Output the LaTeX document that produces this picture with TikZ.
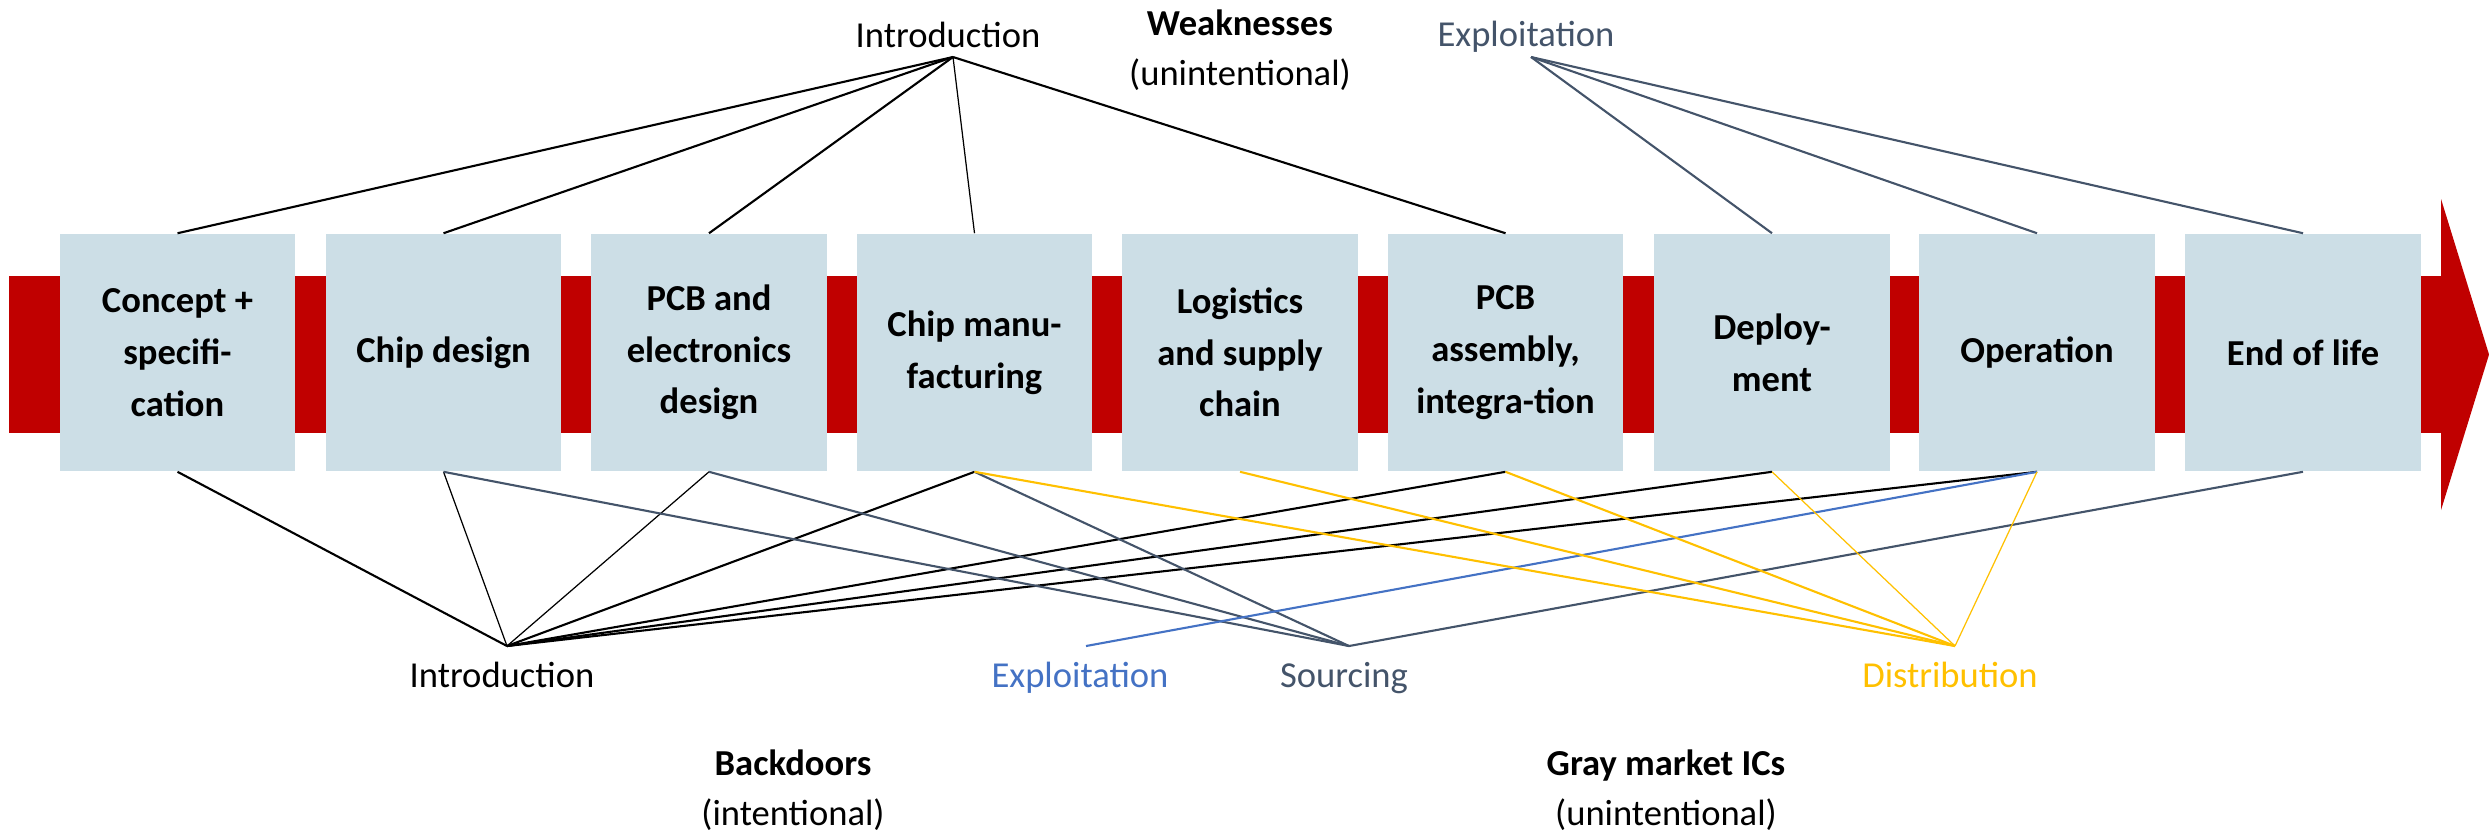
\documentclass[tikz,border=0pt]{standalone}
\usepackage{fontspec}
\setmainfont{Carlito}
\definecolor{lifered}{HTML}{C00000}
\definecolor{stagefill}{HTML}{CCDEE6}
\definecolor{slate}{HTML}{44546A}
\definecolor{exblue}{HTML}{4472C4}
\definecolor{gold}{HTML}{FFC000}
\tikzset{
  stage/.style={fill=stagefill, minimum width=2.35cm, minimum height=2.37cm,
    inner sep=0pt, align=center, font=\fontsize{10.4}{14.7}\selectfont\bfseries},
  lbl/.style={anchor=base, inner sep=0pt, align=center,
    font=\fontsize{10.4}{14.2}\selectfont},
  link/.style={line width=0.6pt},
  thinlink/.style={line width=0.35pt},
}
\begin{document}
\begin{tikzpicture}[x=0.01cm, y=-0.01cm]
  \useasboundingbox (0,0) rectangle (2489,835);
  % life cycle arrow
  \fill[lifered] (9,276) rectangle (2441,433);
  \fill[lifered] (2441,199) -- (2489,354.5) -- (2441,510) -- cycle;

  % stages
  \node[stage] (concept) at (177.5,352.5) {Concept +\\specifi-\\cation};
  \node[stage] (chipdes) at (443.5,352.5) {Chip design};
  \node[stage] (pcbdes) at (709,352.5) {PCB and\\electronics\\design};
  \node[stage] (chipman) at (974.5,352.5) {Chip manu-\\facturing};
  \node[stage] (logist) at (1240,352.5) {Logistics\\and supply\\chain};
  \node[stage] (pcbasm) at (1505.5,352.5) {PCB\\assembly,\\integra-tion};
  \node[stage] (deploy) at (1772,352.5) {Deploy-\\ment};
  \node[stage] (oper) at (2037,352.5) {Operation};
  \node[stage] (eol) at (2303,352.5) {End of life};

  % weaknesses (top)
  \node[lbl] (introT) at (948,47) {Introduction};
  \node[lbl] (weak) at (1240,85) {\textbf{Weaknesses}\\(unintentional)};
  \node[lbl, text=slate] (exploitT) at (1526,46) {Exploitation};
  \coordinate (introTp) at (953,57);
  \coordinate (exploitTp) at (1531,57);

  \draw[link] (introTp) -- (concept.north);
  \draw[link] (introTp) -- (chipdes.north);
  \draw[link] (introTp) -- (pcbdes.north);
  \draw[thinlink] (introTp) -- (chipman.north);
  \draw[link] (introTp) -- (pcbasm.north);
  \draw[link, slate] (exploitTp) -- (deploy.north);
  \draw[link, slate] (exploitTp) -- (oper.north);
  \draw[link, slate] (exploitTp) -- (eol.north);

  % backdoors and gray market (bottom)
  \node[lbl] (introB) at (502,687) {Introduction};
  \node[lbl, text=exblue] (exploitB) at (1080,687) {Exploitation};
  \node[lbl, text=slate] (sourcing) at (1344,687) {Sourcing};
  \node[lbl, text=gold] (distrib) at (1950,687) {Distribution};
  \node[lbl] (backdoors) at (793,825) {\textbf{Backdoors}\\(intentional)};
  \node[lbl] (graymkt) at (1666,825) {\textbf{Gray market ICs}\\(unintentional)};
  \coordinate (introBp) at (507,646);
  \coordinate (exploitBp) at (1086,646);
  \coordinate (sourcingp) at (1349,646);
  \coordinate (distribp) at (1955,646);

  \draw[link] (introBp) -- (concept.south);
  \draw[thinlink] (introBp) -- (chipdes.south);
  \draw[thinlink] (introBp) -- (pcbdes.south);
  \draw[link] (introBp) -- (chipman.south);
  \draw[link] (introBp) -- (pcbasm.south);
  \draw[link] (introBp) -- (deploy.south);
  \draw[link] (introBp) -- (oper.south);

  \draw[link, slate] (sourcingp) -- (chipdes.south);
  \draw[link, slate] (sourcingp) -- (pcbdes.south);
  \draw[link, slate] (sourcingp) -- (chipman.south);
  \draw[link, slate] (sourcingp) -- (eol.south);

  \draw[link, exblue] (exploitBp) -- (oper.south);

  \draw[link, gold] (distribp) -- (chipman.south);
  \draw[link, gold] (distribp) -- (logist.south);
  \draw[link, gold] (distribp) -- (pcbasm.south);
  \draw[thinlink, gold] (distribp) -- (deploy.south);
  \draw[thinlink, gold] (distribp) -- (oper.south);
\end{tikzpicture}
\end{document}
